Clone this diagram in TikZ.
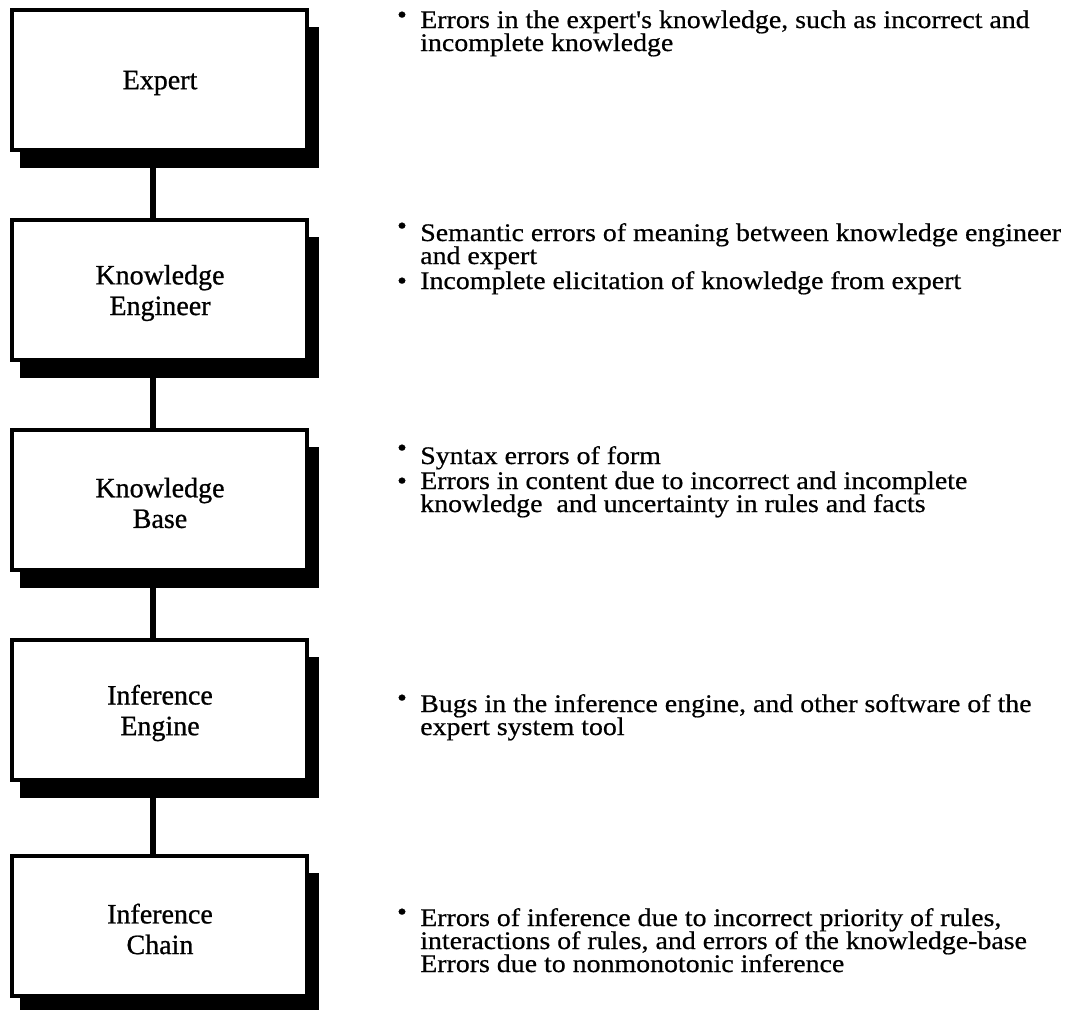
\documentclass[tikz,border=0pt]{standalone}
\usepackage{fontspec}
\setmainfont{Liberation Serif}
\newfontfamily\labelfont[FakeBold=0.8]{Liberation Serif}
\newfontfamily\notefont[FakeStretch=1.1,FakeBold=0.6]{Liberation Serif}
\begin{document}
\begin{tikzpicture}[x=0.75pt,y=-0.75pt,
  label/.style={align=center,font=\labelfont\fontsize{21}{23}\selectfont},
  link/.style={line width=5pt},
  note/.style={anchor=base west,inner sep=0pt,font=\notefont\fontsize{19}{19}\selectfont},
  dot/.style={anchor=base,inner sep=0pt,font=\notefont\fontsize{19}{19}\selectfont}]
\useasboundingbox (0,0) rectangle (1078,1010);
% stage boxes with drop shadows
\foreach \t/\n/\lab in {10/ex/Expert,220/ke/Knowledge\\Engineer,430/kb/Knowledge\\Base,640/ie/Inference\\Engine,856/ic/Inference\\Chain}{
  \fill[black] (20,\t+17) rectangle (319,\t+158);
  \draw[line width=3pt,fill=white] (12,\t) rectangle (307,\t+140);
  \node[label] (\n) at (160,\t+73) {\lab};
  \coordinate (\n-top) at (153,\t);
  \coordinate (\n-bot) at (153,\t+158);
}
\draw[link] (ex-bot) -- (ke-top);
\draw[link] (ke-bot) -- (kb-top);
\draw[link] (kb-bot) -- (ie-top);
\draw[link] (ie-bot) -- (ic-top);
% error notes
\node[dot] (b1) at (402,23) {•};
\node[note] (n1a) at (420,28) {Errors in the expert's knowledge, such as incorrect and};
\node[note] (n1b) at (420,51) {incomplete knowledge};
\node[dot] (b2) at (402,234) {•};
\node[note] (n2a) at (420,241) {Semantic errors of meaning between knowledge engineer};
\node[note] (n2b) at (420,264) {and expert};
\node[dot] (b3) at (402,289) {•};
\node[note] (n2c) at (420,289) {Incomplete elicitation of knowledge from expert};
\node[dot] (b4) at (402,456) {•};
\node[note] (n3a) at (420,464) {Syntax errors of form};
\node[dot] (b5) at (402,489) {•};
\node[note] (n3b) at (420,489) {Errors in content due to incorrect and incomplete};
\node[note] (n3c) at (420,512) {knowledge\ \ and uncertainty in rules and facts};
\node[dot] (b6) at (402,706) {•};
\node[note] (n4a) at (420,712) {Bugs in the inference engine, and other software of the};
\node[note] (n4b) at (420,735) {expert system tool};
\node[dot] (b7) at (402,920) {•};
\node[note] (n5a) at (420,926) {Errors of inference due to incorrect priority of rules,};
\node[note] (n5b) at (420,949) {interactions of rules, and errors of the knowledge-base};
\node[note] (n5c) at (420,972) {Errors due to nonmonotonic inference};
\end{tikzpicture}
\end{document}
